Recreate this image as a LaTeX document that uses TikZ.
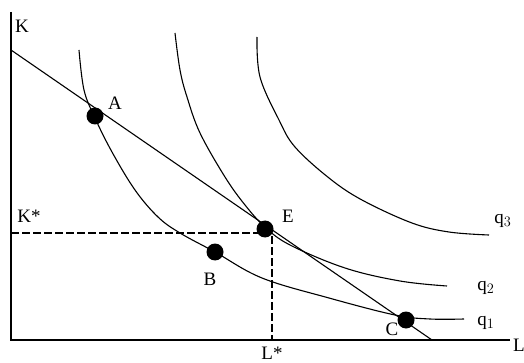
\documentclass[tikz,border=0pt]{standalone}
\usepackage{fontspec}
\setmainfont{Liberation Serif}
\begin{document}
\begin{tikzpicture}[x=1pt,y=-1pt,
  lbl/.style={inner sep=0pt, font=\fontsize{19}{20}\selectfont},
  dot/.style={circle, fill=black, inner sep=0pt, minimum size=17pt},
  curve/.style={line width=1.1pt},
  axis/.style={line width=2pt},
  guide/.style={line width=2pt, dash pattern=on 8pt off 3pt}]
\useasboundingbox (0,0) rectangle (524,363);
% axes
\coordinate (O) at (11,340);
\coordinate (Ktop) at (11,12);
\coordinate (Lend) at (510,340);
\draw[axis] (Ktop) -- (O) -- (Lend);
\node[lbl] (K) at (22,26) {K};
\node[lbl] (L) at (519,345) {L};
% budget line
\coordinate (b1) at (11,50);
\coordinate (b2) at (432,340);
\draw[curve] (b1) -- (b2);
% isoquants
\draw[curve] plot[smooth,tension=0.6] coordinates {(79,50) (84,90) (95,118) (112,152) (135,190) (158,217) (180,233) (215,252) (262,278) (329,298) (395,315) (430,319) (464,319)};
\draw[curve] plot[smooth,tension=0.6] coordinates {(175,33) (180,70) (187,97) (200,133) (225,177) (245,205) (265,227) (290,245) (345,268) (400,281) (447,286)};
\draw[curve] plot[smooth,tension=0.6] coordinates {(257,37) (260,77) (279,120) (295,147) (329,178) (362,200) (412,223) (449,232) (489,235)};
% guides
\coordinate (G) at (272,233);
\coordinate (Gy) at (11,233);
\coordinate (Gx) at (272,340);
\draw[guide] (Gy) -- (G) -- (Gx);
% points
\node[dot] (A) at (95,116) {};
\node[dot] (B) at (215,252) {};
\node[dot] (E) at (265,229) {};
\node[dot] (C) at (406,320) {};
% labels
\node[lbl] (Al) at (115,103) {A};
\node[lbl] (Bl) at (210,279) {B};
\node[lbl] (El) at (288,216) {E};
\node[lbl] (Cl) at (392,329) {C};
\node[lbl] (Ks) at (29,216) {K*};
\node[lbl] (Ls) at (272,353) {L*};
\node[lbl] (q3) at (503,221) {q$_3$};
\node[lbl] (q2) at (486,288) {q$_2$};
\node[lbl] (q1) at (486,323) {q$_1$};
\end{tikzpicture}
\end{document}
